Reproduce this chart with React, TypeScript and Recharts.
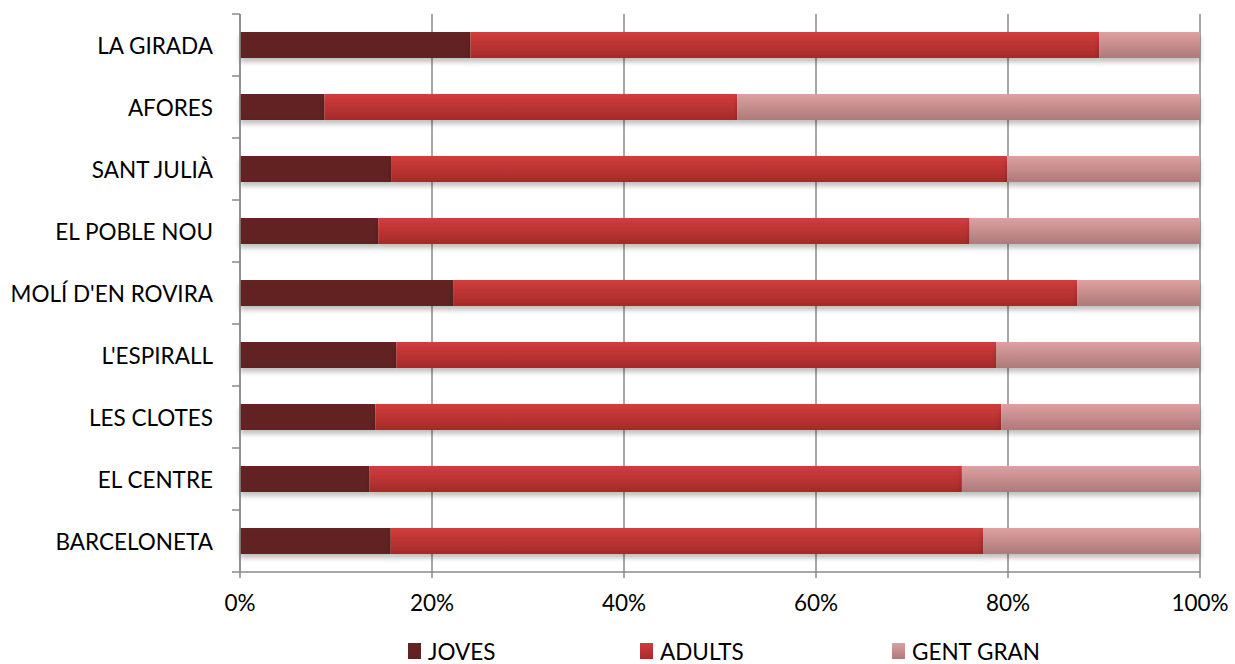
import React from 'react';
import { BarChart, Bar, XAxis, YAxis, CartesianGrid } from 'recharts';

const categories = ['LA GIRADA', 'AFORES', 'SANT JULIÀ', 'EL POBLE NOU', "MOLÍ D'EN ROVIRA", "L'ESPIRALL", 'LES CLOTES', 'EL CENTRE', 'BARCELONETA'];
const joves = [24.0, 8.8, 15.8, 14.4, 22.2, 16.3, 14.1, 13.5, 15.7];
const adults = [65.5, 43.0, 64.1, 61.6, 65.0, 62.5, 65.2, 61.7, 61.7];
const gentGran = [10.5, 48.2, 20.1, 24.0, 12.8, 21.2, 20.7, 24.8, 22.6];
const xTicks = [0, 20, 40, 60, 80, 100];
const seriesNames = ['JOVES', 'ADULTS', 'GENT GRAN'];

const data = categories.map((c, i) => ({ name: c, joves: joves[i], adults: adults[i], gent: gentGran[i] }));

const FONT = 'Lato, "DejaVu Sans", sans-serif';
const FS = 22.5;
const fills = ['url(#gJoves)', 'url(#gAdults)', 'url(#gGent)'];

const ShadowBar = (props: any) => {
  const { x, y, width, height, fill } = props;
  if (!width || width <= 0) return null;
  return <rect x={x} y={y} width={width} height={height} fill={fill} filter="url(#shadow)" />;
};

const YTick = (props: any) => {
  const { x, y, payload, index } = props;
  const band = 62;
  return (
    <g>
      <text x={x - 27} y={y} textAnchor="end" dominantBaseline="central" fontSize={FS} fontFamily={FONT} fill="#000">
        {payload.value}
      </text>
      <line x1={x - 8} x2={x} y1={y - band / 2} y2={y - band / 2} stroke="#8a8a8a" strokeWidth={1.5} />
      {index === categories.length - 1 ? (
        <line x1={x - 8} x2={x} y1={y + band / 2} y2={y + band / 2} stroke="#8a8a8a" strokeWidth={1.5} />
      ) : null}
    </g>
  );
};

const legendX = [408, 640, 892];

export default function App() {
  return (
    <div style={{ position: 'absolute', left: 0, top: 0, width: 1235, height: 664, background: '#fff' }}>
      <BarChart
        width={1235}
        height={664}
        data={data}
        layout="vertical"
        margin={{ top: 14, right: 35, bottom: 52, left: 0 }}
        barSize={26}
      >
        <defs>
          <linearGradient id="gJoves" x1="0" y1="0" x2="0" y2="1">
            <stop offset="0%" stopColor="#652424" />
            <stop offset="100%" stopColor="#5f2121" />
          </linearGradient>
          <linearGradient id="gAdults" x1="0" y1="0" x2="0" y2="1">
            <stop offset="0%" stopColor="#d23d3d" />
            <stop offset="100%" stopColor="#a42a2a" />
          </linearGradient>
          <linearGradient id="gGent" x1="0" y1="0" x2="0" y2="1">
            <stop offset="0%" stopColor="#dea0a0" />
            <stop offset="100%" stopColor="#ad7a7a" />
          </linearGradient>
          <filter id="shadow" x="-5%" y="-20%" width="110%" height="160%">
            <feDropShadow dx="0" dy="4" stdDeviation="2.5" floodColor="#000" floodOpacity="0.25" />
          </filter>
        </defs>
        <CartesianGrid horizontal={false} vertical={true} stroke="#8a8a8a" strokeWidth={1.5} />
        <XAxis
          type="number"
          domain={[0, 100]}
          ticks={xTicks}
          tickFormatter={(v: number) => `${v}%`}
          axisLine={{ stroke: '#8a8a8a', strokeWidth: 1.5 }}
          tickLine={{ stroke: '#8a8a8a', strokeWidth: 1.5 }}
          tickSize={6}
          tickMargin={17}
          height={40}
          tick={{ fontSize: FS, fontFamily: FONT, fill: '#000' }}
          interval={0}
        />
        <YAxis
          type="category"
          dataKey="name"
          width={240}
          axisLine={{ stroke: '#8a8a8a', strokeWidth: 1.5 }}
          tickLine={false}
          tickSize={0}
          tickMargin={0}
          tick={<YTick />}
          interval={0}
        />
        <Bar dataKey="joves" stackId="a" fill={fills[0]} isAnimationActive={false} shape={ShadowBar} />
        <Bar dataKey="adults" stackId="a" fill={fills[1]} isAnimationActive={false} shape={ShadowBar} />
        <Bar dataKey="gent" stackId="a" fill={fills[2]} isAnimationActive={false} shape={ShadowBar} />
        <g>
          {seriesNames.map((n, i) => (
            <g key={n}>
              <rect x={legendX[i]} y={643} width={13} height={16} fill={fills[i]} />
              <text x={legendX[i] + 20} y={651} dominantBaseline="central" fontSize={FS} fontFamily={FONT} fill="#000">
                {n}
              </text>
            </g>
          ))}
        </g>
      </BarChart>
    </div>
  );
}
